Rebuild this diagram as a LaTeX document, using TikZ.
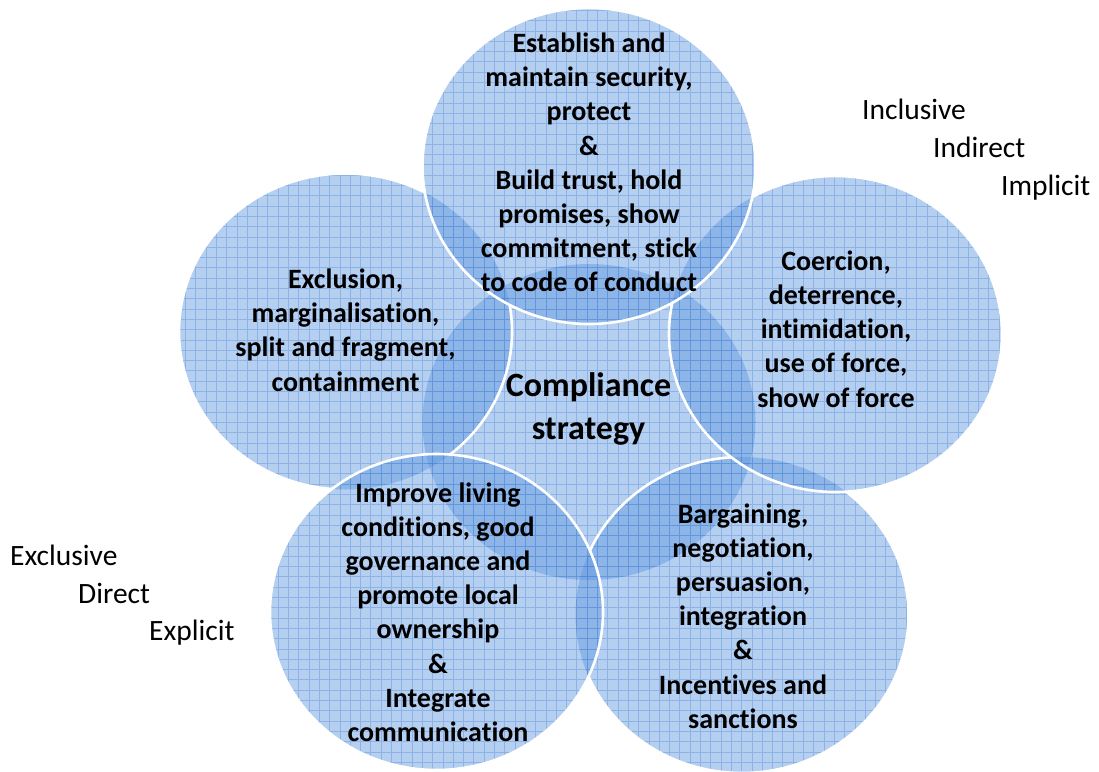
\documentclass[tikz,border=0pt]{standalone}
\usepackage{fontspec}
\setmainfont{Carlito}[Ligatures={NoCommon}]
\begin{document}
\begin{tikzpicture}[x=1pt,y=-1pt]
\definecolor{blobcol}{RGB}{94,150,223}
\definecolor{gridcol}{RGB}{55,120,210}
\tikzset{
  blobsize/.style={x radius=166.5pt, y radius=158pt},
  blobfill/.style={fill=blobcol, fill opacity=0.46},
  gridline/.style={draw=gridcol, draw opacity=0.32, line width=0.7pt},
  rim/.style={draw=white, line width=2.6pt},
  circtext/.style={font=\bfseries\fontsize{28}{34.2}\selectfont, align=center, text=black, inner sep=0pt},
  hubtext/.style={font=\bfseries\fontsize{34}{43}\selectfont, align=center, text=black, inner sep=0pt},
  sidetext/.style={font=\fontsize{29.5}{36}\selectfont, anchor=base west, inner sep=0pt, text=black},
}
\useasboundingbox (0,771) rectangle (1099,0);

% circle centres
\coordinate (cC)  at (589,422);
\coordinate (cT)  at (589,166);
\coordinate (cR)  at (835.5,334);
\coordinate (cL)  at (345.5,331.5);
\coordinate (cBL) at (436.5,612);
\coordinate (cBR) at (742,615);

% fills with grid texture
\foreach \c in {cC,cL,cBR,cBL,cR,cT}{
  \fill[blobfill] (\c) ellipse [blobsize];
  \begin{scope}
    \clip (\c) ellipse [blobsize];
    \draw[gridline] (0,771) grid[step=10.3pt] (1099,0);
  \end{scope}
}

% white rims, hidden where a later circle lies on top
\begin{scope}[even odd rule]
  \clip (-60,830) rectangle (1160,-60) (cBL) ellipse [blobsize];
  \clip (-60,830) rectangle (1160,-60) (cT) ellipse [blobsize];
  \draw[rim] (cL) ellipse [blobsize];
\end{scope}
\begin{scope}[even odd rule]
  \clip (-60,830) rectangle (1160,-60) (cBL) ellipse [blobsize];
  \clip (-60,830) rectangle (1160,-60) (cR) ellipse [blobsize];
  \draw[rim] (cBR) ellipse [blobsize];
\end{scope}
\begin{scope}[even odd rule]
  \clip (-60,830) rectangle (1160,-60) (cR) ellipse [blobsize];
  \clip (-60,830) rectangle (1160,-60) (cT) ellipse [blobsize];
  \draw[rim] (cBL) ellipse [blobsize];
\end{scope}
\begin{scope}[even odd rule]
  \clip (-60,830) rectangle (1160,-60) (cT) ellipse [blobsize];
  \draw[rim] (cR) ellipse [blobsize];
\end{scope}
\draw[rim] (cT) ellipse [blobsize];

% texts
\node[hubtext] (hub) at (588.5,408.5) {Compliance\\strategy};
\node[circtext] (top) at (589,162.5) {Establish and\\maintain security,\\protect\\\&\\Build trust, hold\\promises, show\\commitment, stick\\to code of conduct};
\node[circtext] (left) at (345.5,330) {Exclusion,\\marginalisation,\\split and fragment,\\containment};
\node[circtext] (right) at (836,329) {Coercion,\\deterrence,\\intimidation,\\use of force,\\show of force};
\node[circtext] (botleft) at (438,612) {Improve living\\conditions, good\\governance and\\promote local\\ownership\\\&\\Integrate\\communication};
\node[circtext] (botright) at (743,616) {Bargaining,\\negotiation,\\persuasion,\\integration\\\&\\Incentives and\\sanctions};

\node[sidetext] (incl) at (862,119) {Inclusive};
\node[sidetext] (indir) at (933,157) {Indirect};
\node[sidetext] (impl) at (1001,195) {Implicit};
\node[sidetext] (excl) at (10,565) {Exclusive};
\node[sidetext] (dir) at (78,603) {Direct};
\node[sidetext] (expl) at (149,640) {Explicit};
\end{tikzpicture}
\end{document}
